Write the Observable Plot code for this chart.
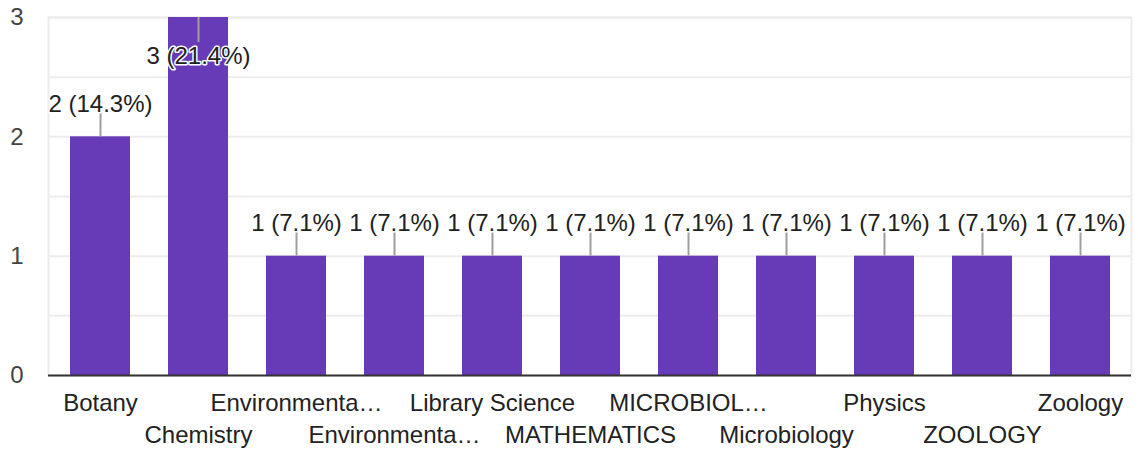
<!DOCTYPE html>
<html><head><meta charset="utf-8">
<script src="https://cdn.jsdelivr.net/npm/d3@7"></script>
<script src="https://cdn.jsdelivr.net/npm/@observablehq/plot@0.6"></script>
<style>body{margin:0;background:#fff;}</style>
</head><body><div id="chart"></div>
<script>
const labels = ["Botany","Chemistry","Environmenta…","Environmenta…","Library Science","MATHEMATICS","MICROBIOL…","Microbiology","Physics","ZOOLOGY","Zoology"];
const counts = [2,3,1,1,1,1,1,1,1,1,1];
const yTicks = [0,1,2,3];
const gridTicks = [0.5,1,1.5,2,2.5,3];
const yMax = 3;

const total = d3.sum(counts);
const data = labels.map((label,i)=>({
  i, label, count: counts[i],
  valueLabel: `${counts[i]} (${(counts[i]/total*100).toFixed(1)}%)`
}));
const font = '"Liberation Sans", Arial, sans-serif';

const chart = Plot.plot({
  width: 1138, height: 452,
  marginLeft: 48, marginRight: 7, marginTop: 17, marginBottom: 77,
  style: {fontFamily: font, fontSize: "24px", background: "#fff", overflow: "visible"},
  x: {type: "band", domain: d3.range(labels.length), paddingInner: 0.39, paddingOuter: 0.195, axis: null},
  y: {domain: [0, yMax], axis: null},
  marks: [
    Plot.frame({stroke: "#ececec", strokeWidth: 2}),
    Plot.ruleY(gridTicks, {stroke: "#ececec", strokeWidth: 2}),
    Plot.barY(data, {x: "i", y: "count", fill: "#673ab7"}),
    Plot.ruleY([0], {stroke: "#333", strokeWidth: 2}),
    Plot.ruleX(data, {x: "i", y1: "count", y2: d => d.count >= yMax ? d.count - 0.21 : d.count + 0.2, stroke: "#9e9e9e", strokeWidth: 2}),
    Plot.text(data.filter(d => d.count < yMax), {x: "i", y: "count", text: "valueLabel", dy: -33, fill: "#212121", stroke: "white", strokeWidth: 3, fontSize: 24}),
    Plot.text(data.filter(d => d.count >= yMax), {x: "i", y: "count", text: "valueLabel", dy: 39, fill: "#212121", stroke: "white", strokeWidth: 3, fontSize: 24}),
    Plot.axisY({ticks: yTicks, tickSize: 0, tickPadding: 25, fontSize: 24, color: "#444", tickFormat: d => d, label: null}),
    Plot.text(data.filter(d => d.i % 2 === 0), {x: "i", y: 0, text: "label", dy: 28, fill: "#222", fontSize: 24}),
    Plot.text(data.filter(d => d.i % 2 === 1), {x: "i", y: 0, text: "label", dy: 60, fill: "#222", fontSize: 24})
  ]
});
document.getElementById("chart").appendChild(chart);
</script>
</body></html>
